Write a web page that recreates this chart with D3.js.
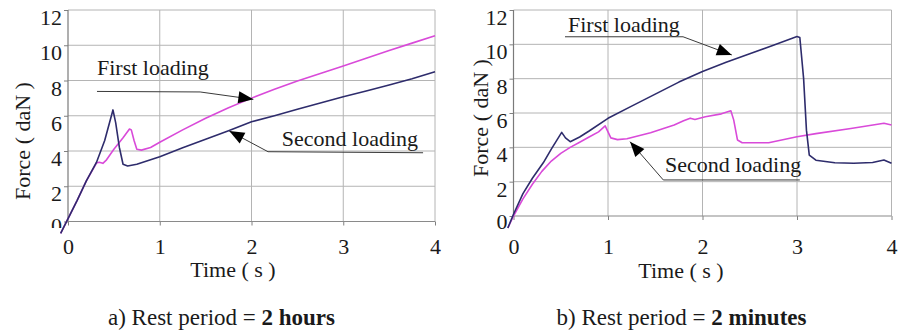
<!DOCTYPE html>
<html>
<head>
<meta charset="utf-8">
<script src="https://cdn.jsdelivr.net/npm/d3@7"></script>
<style>
  html, body { margin: 0; padding: 0; background: #fff; }
  svg { display: block; }
  text { font-family: "Liberation Serif", "Times New Roman", serif; fill: #1a1a1a; }
</style>
</head>
<body>
<svg id="fig" width="900" height="332"></svg>
<script>
// Axis ticks shared by both panels
const timeTicks = [0, 1, 2, 3, 4];
const forceTicks = [0, 2, 4, 6, 8, 10, 12];

// Panel a) rest period = 2 hours : [time (s), force (daN)]
const hoursFirstLoading = [
  [-0.08, -0.67], [0.1, 1.2], [0.2, 2.3], [0.31, 3.32], [0.34, 3.36], [0.38, 3.3],
  [0.42, 3.5], [0.5, 4.1], [0.6, 4.75], [0.67, 5.25], [0.69, 5.2], [0.72, 4.6],
  [0.75, 4.1], [0.8, 4.05], [0.9, 4.2], [1.0, 4.5], [1.25, 5.2], [1.5, 5.86],
  [1.75, 6.45], [2.0, 7.0], [2.25, 7.5], [2.5, 7.97], [2.75, 8.4], [3.0, 8.82],
  [3.25, 9.26], [3.5, 9.7], [3.75, 10.12], [4.0, 10.54]
];
const hoursSecondLoading = [
  [-0.08, -0.67], [0.1, 1.2], [0.2, 2.3], [0.31, 3.35], [0.4, 4.6], [0.49, 6.33],
  [0.52, 5.6], [0.56, 4.2], [0.6, 3.25], [0.65, 3.15], [0.75, 3.25], [1.0, 3.68],
  [1.25, 4.18], [1.5, 4.66], [1.75, 5.15], [2.0, 5.66], [2.25, 6.0], [2.5, 6.37],
  [2.75, 6.72], [3.0, 7.08], [3.25, 7.4], [3.5, 7.74], [3.75, 8.1], [4.0, 8.5]
];

// Panel b) rest period = 2 minutes : [time (s), force (daN)]
const minutesFirstLoading = [
  [-0.06, -0.7], [0.0, 0.1], [0.1, 1.3], [0.2, 2.2], [0.315, 3.1], [0.4, 3.9],
  [0.51, 4.87], [0.55, 4.55], [0.6, 4.33], [0.7, 4.6], [0.8, 4.95], [1.0, 5.69],
  [1.25, 6.4], [1.5, 7.1], [1.75, 7.8], [2.0, 8.42], [2.25, 8.95], [2.5, 9.45],
  [2.75, 9.95], [3.0, 10.45], [3.03, 10.4], [3.07, 8.0], [3.1, 5.0], [3.13, 3.55],
  [3.2, 3.25], [3.4, 3.1], [3.6, 3.07], [3.8, 3.12], [3.92, 3.26], [4.0, 3.07]
];
const minutesSecondLoading = [
  [-0.06, -0.7], [0.0, 0.0], [0.1, 1.0], [0.2, 1.85], [0.3, 2.6], [0.4, 3.2],
  [0.5, 3.65], [0.6, 4.0], [0.7, 4.3], [0.8, 4.6], [0.9, 4.9], [0.97, 5.25],
  [1.0, 4.9], [1.03, 4.55], [1.1, 4.45], [1.2, 4.5], [1.45, 4.85], [1.7, 5.3],
  [1.8, 5.55], [1.87, 5.7], [1.92, 5.62], [2.03, 5.78], [2.2, 5.95], [2.3, 6.13],
  [2.33, 5.6], [2.37, 4.43], [2.42, 4.27], [2.7, 4.27], [3.0, 4.62], [3.2, 4.8],
  [3.57, 5.1], [3.92, 5.4], [4.0, 5.3]
];

// Callout labels: text anchor point and leader path (last point = arrow tip), data units
const hoursCallouts = [
  { text: "First loading", at: [0.316, 8.31], path: [[0.316, 7.38], [1.44, 7.35], [2.02, 6.93]] },
  { text: "Second loading", at: [2.33, 4.28], path: [[3.87, 3.9], [2.18, 3.96], [1.758, 5.13]] }
];
const minutesCallouts = [
  { text: "First loading", at: [0.577, 10.72], path: [[0.545, 10.44], [1.794, 10.44], [2.31, 9.38]] },
  { text: "Second loading", at: [1.603, 2.58], path: [[3.03, 2.1], [1.585, 2.1], [1.233, 4.33]] }
];

const NAVY = "#2e2c6c";
const MAGENTA = "#d94ad9";

const panels = [
  {
    id: "a", left: 68, right: 435, top: 10, bottom: 221.5,
    yLabelPos: [22, 141], xLabelPos: [233, 277],
    zeroLabelDy: 11, zeroVisible: 6,
    caption: ["a) Rest period = ", "2 hours"], captionPos: [221.5, 325],
    series: [
      { data: hoursFirstLoading, color: MAGENTA },
      { data: hoursSecondLoading, color: NAVY }
    ],
    callouts: hoursCallouts
  },
  {
    id: "b", left: 513.5, right: 891.5, top: 10, bottom: 216,
    yLabelPos: [480, 118], xLabelPos: [681, 278],
    zeroLabelDy: 12, zeroVisible: 40,
    caption: ["b) Rest period = ", "2 minutes"], captionPos: [681.5, 325],
    series: [
      { data: minutesSecondLoading, color: MAGENTA },
      { data: minutesFirstLoading, color: NAVY }
    ],
    callouts: minutesCallouts
  }
];

const svg = d3.select("#fig");
const defs = svg.append("defs");

panels.forEach(p => {
  const x = d3.scaleLinear().domain([0, 4]).range([p.left, p.right]);
  const y = d3.scaleLinear().domain([0, 12]).range([p.bottom, p.top]);
  const g = svg.append("g").attr("class", "panel-" + p.id);

  // grid
  g.append("g").selectAll("line").data(forceTicks.filter(d => d > 0)).join("line")
    .attr("x1", p.left).attr("x2", p.right)
    .attr("y1", d => y(d)).attr("y2", d => y(d))
    .attr("stroke", "#b4b4b4").attr("stroke-width", 1);
  g.append("g").selectAll("line").data(timeTicks.filter(d => d > 0)).join("line")
    .attr("x1", d => x(d)).attr("x2", d => x(d))
    .attr("y1", p.top).attr("y2", p.bottom)
    .attr("stroke", "#b4b4b4").attr("stroke-width", 1);

  // clip for the bottom y tick label (local to its tick group)
  const clipId = "zclip-" + p.id;
  defs.append("clipPath").attr("id", clipId)
    .append("rect").attr("x", -100).attr("y", -50).attr("width", 200).attr("height", 50 + p.zeroVisible);

  // y axis
  const yAxis = g.append("g").attr("transform", `translate(${p.left},0)`)
    .call(d3.axisLeft(y).tickValues(forceTicks).tickSize(4).tickPadding(2).tickFormat(d3.format("d")));
  yAxis.select(".domain").remove();
  yAxis.selectAll(".tick line").attr("stroke", "#808080");
  yAxis.selectAll(".tick text")
    .attr("dy", d => d === 0 ? p.zeroLabelDy : "0.66em")
    .style("font-size", "22px")
    .style("font-family", "'Liberation Serif', serif")
    .attr("fill", "#1a1a1a")
    .attr("clip-path", d => d === 0 ? `url(#${clipId})` : null);

  // x axis
  const xAxis = g.append("g").attr("transform", `translate(0,${p.bottom})`)
    .call(d3.axisBottom(x).tickValues(timeTicks).tickSize(4).tickFormat(d3.format("d")));
  xAxis.select(".domain").remove();
  xAxis.selectAll(".tick line").attr("stroke", "#808080");
  xAxis.selectAll(".tick text")
    .attr("y", 254 - p.bottom).attr("dy", 0)
    .style("font-size", "22px")
    .style("font-family", "'Liberation Serif', serif")
    .attr("fill", "#1a1a1a");

  // axis lines
  g.append("line").attr("x1", p.left).attr("x2", p.left).attr("y1", p.top).attr("y2", p.bottom)
    .attr("stroke", "#7a7a7a").attr("stroke-width", 1.2);
  g.append("line").attr("x1", p.left).attr("x2", p.right).attr("y1", p.bottom).attr("y2", p.bottom)
    .attr("stroke", "#8a8a8a").attr("stroke-width", 1.2);

  // curves
  const line = d3.line().x(d => x(d[0])).y(d => y(d[1]));
  p.series.forEach(s => {
    g.append("path").datum(s.data)
      .attr("d", line)
      .attr("fill", "none")
      .attr("stroke", s.color)
      .attr("stroke-width", 1.6)
      .attr("stroke-linejoin", "round");
  });

  // callouts with leader lines and arrowheads
  p.callouts.forEach(c => {
    g.append("text")
      .attr("x", x(c.at[0])).attr("y", y(c.at[1]))
      .style("font-size", "22px")
      .text(c.text);
    const pts = c.path.map(d => [x(d[0]), y(d[1])]);
    g.append("path").attr("d", d3.line()(pts))
      .attr("fill", "none").attr("stroke", "#3a3a3a").attr("stroke-width", 1);
    const tip = pts[pts.length - 1], prev = pts[pts.length - 2];
    const ang = Math.atan2(tip[1] - prev[1], tip[0] - prev[0]);
    const len = 15, half = 6;
    const bx = tip[0] - len * Math.cos(ang), by = tip[1] - len * Math.sin(ang);
    const nx = -Math.sin(ang) * half, ny = Math.cos(ang) * half;
    g.append("path")
      .attr("d", `M${tip[0]},${tip[1]}L${bx + nx},${by + ny}L${bx - nx},${by - ny}Z`)
      .attr("fill", "#000");
  });

  // axis titles
  g.append("text")
    .attr("transform", `translate(${p.yLabelPos[0]},${p.yLabelPos[1]}) rotate(-90)`)
    .attr("text-anchor", "middle").attr("dy", "0.35em")
    .style("font-size", "22px")
    .text("Force ( daN )");
  g.append("text")
    .attr("x", p.xLabelPos[0]).attr("y", p.xLabelPos[1])
    .attr("text-anchor", "middle")
    .style("font-size", "22px")
    .text("Time ( s )");

  // caption
  const cap = g.append("text")
    .attr("x", p.captionPos[0]).attr("y", p.captionPos[1])
    .attr("text-anchor", "middle")
    .style("font-size", "23px");
  cap.append("tspan").text(p.caption[0]);
  cap.append("tspan").style("font-weight", "bold").text(p.caption[1]);
});
</script>
</body>
</html>
